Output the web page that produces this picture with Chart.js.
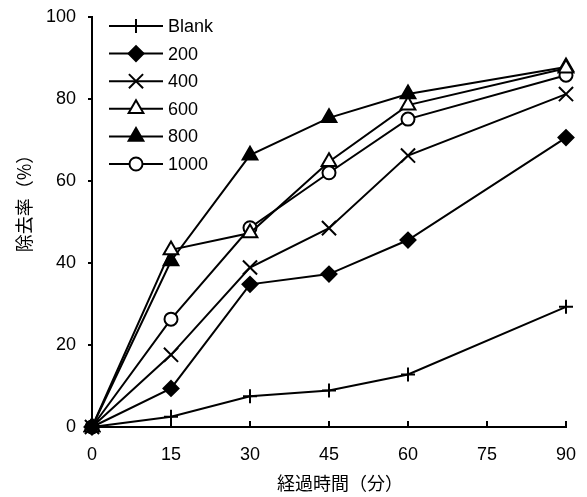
<!DOCTYPE html>
<html><head><meta charset="utf-8">
<script src="https://cdn.jsdelivr.net/npm/chart.js@4"></script>
<style>html,body{margin:0;padding:0;background:#fff;overflow:hidden}</style>
</head><body>
<canvas id="c" width="587" height="497"></canvas>
<script>
const times = [0, 15, 30, 45, 60, 90];
const seriesNames = ['Blank', '200', '400', '600', '800', '1000'];
const blankValues = [0, 2.5, 7.5, 8.9, 12.8, 29.3];
const values200 = [0, 9.4, 34.8, 37.3, 45.6, 70.6];
const values400 = [0, 17.6, 38.9, 48.5, 66.2, 81.2];
const values600 = [0, 43.2, 47.3, 64.7, 78.5, 87.5];
const values800 = [0, 40.5, 66.3, 75.4, 81.2, 87.8];
const values1000 = [0, 26.3, 48.6, 62.0, 75.1, 85.8];
const xTickValues = [0, 15, 30, 45, 60, 75, 90];
const yTickValues = [0, 20, 40, 60, 80, 100];
const xTitle = '経過時間（分）';
const yTitle = '除去率（%）';

const seriesValues = [blankValues, values200, values400, values600, values800, values1000];
const styles = [
  {pointStyle: 'cross', radius: 7, fill: '#000'},
  {pointStyle: 'rectRot', radius: 7.5, fill: '#000'},
  {pointStyle: 'crossRot', radius: 10, fill: '#000'},
  {pointStyle: 'triangle', radius: 8.5, fill: '#fff'},
  {pointStyle: 'triangle', radius: 8.5, fill: '#000'},
  {pointStyle: 'circle', radius: 6.5, fill: '#fff'}
];

const datasets = seriesNames.map((name, i) => ({
  label: name,
  data: times.map((t, j) => ({x: t, y: seriesValues[i][j]})),
  borderColor: '#000',
  borderWidth: 2,
  backgroundColor: styles[i].fill,
  pointStyle: styles[i].pointStyle,
  pointRadius: styles[i].radius,
  pointBorderWidth: 2,
  pointBorderColor: '#000',
  pointBackgroundColor: styles[i].fill,
  tension: 0,
  clip: false
}));

const FONT = '"Liberation Sans", Arial, sans-serif';
const CJK = '"Noto Sans CJK JP", sans-serif';

const decor = {
  id: 'decor',
  afterDraw(chart) {
    const ctx = chart.ctx;
    const xs = chart.scales.x, ys = chart.scales.y;
    ctx.save();
    ctx.strokeStyle = '#000';
    ctx.lineWidth = 2;
    // x ticks (inward)
    const yb = ys.getPixelForValue(0);
    xTickValues.forEach(v => {
      const px = Math.round(xs.getPixelForValue(v));
      ctx.beginPath(); ctx.moveTo(px, yb); ctx.lineTo(px, yb - 6); ctx.stroke();
    });
    // y ticks (outward)
    const xl = xs.getPixelForValue(0);
    yTickValues.forEach(v => {
      const py = Math.round(ys.getPixelForValue(v));
      ctx.beginPath(); ctx.moveTo(xl, py); ctx.lineTo(xl - 4, py); ctx.stroke();
    });
    // legend
    const lx0 = 109, lx1 = 163, rowY0 = 26, rowGap = 27.6;
    ctx.font = '18px ' + FONT;
    ctx.textBaseline = 'middle';
    ctx.textAlign = 'left';
    seriesNames.forEach((name, i) => {
      const y = rowY0 + i * rowGap;
      ctx.strokeStyle = '#000';
      ctx.lineWidth = 2;
      ctx.beginPath(); ctx.moveTo(lx0, y); ctx.lineTo(lx1, y); ctx.stroke();
      ctx.fillStyle = styles[i].fill;
      Chart.helpers.drawPoint(ctx, {pointStyle: styles[i].pointStyle, radius: styles[i].radius, rotation: 0, borderWidth: 2}, (lx0 + lx1) / 2, y);
      ctx.fillStyle = '#000';
      ctx.fillText(name, 168, y + 1);
    });
    // axis titles
    ctx.fillStyle = '#000';
    ctx.font = '18px ' + CJK;
    ctx.textAlign = 'center';
    ctx.textBaseline = 'middle';
    ctx.fillText(xTitle, 340, 483);
    ctx.save();
    ctx.translate(24, 199);
    ctx.rotate(-Math.PI / 2);
    ctx.fillText(yTitle, 0, 0);
    ctx.restore();
    ctx.restore();
  }
};

new Chart(document.getElementById('c'), {
  type: 'line',
  data: {datasets},
  options: {
    responsive: false,
    animation: false,
    devicePixelRatio: 1,
    layout: {padding: {left: 0, right: 21, top: 17, bottom: 0}},
    plugins: {legend: {display: false}, tooltip: {enabled: false}},
    scales: {
      x: {
        type: 'linear', min: 0, max: 90,
        afterBuildTicks: s => { s.ticks = xTickValues.map(v => ({value: v})); },
        afterFit: s => { s.height = 70; s.paddingLeft = 0; s.paddingRight = 0; },
        grid: {display: false, drawTicks: false},
        border: {display: true, color: '#000', width: 2},
        ticks: {color: '#000', font: {family: FONT, size: 18}, padding: 17, maxRotation: 0}
      },
      y: {
        type: 'linear', min: 0, max: 100,
        afterBuildTicks: s => { s.ticks = yTickValues.map(v => ({value: v})); },
        afterFit: s => { s.width = 92; s.paddingTop = 0; s.paddingBottom = 0; },
        grid: {display: false, drawTicks: false},
        border: {display: true, color: '#000', width: 2},
        ticks: {color: '#000', font: {family: FONT, size: 18}, padding: 16}
      }
    }
  },
  plugins: [decor]
});
</script>
</body></html>
